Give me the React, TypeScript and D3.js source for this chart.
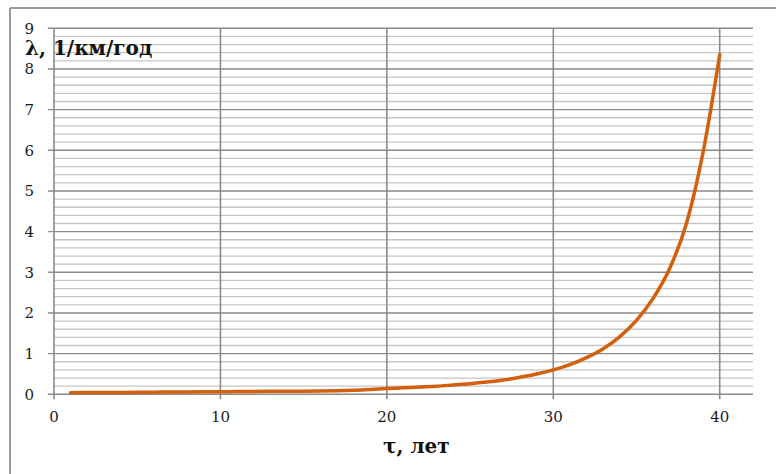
import React from "react";
import * as d3 from "d3";

const years = [1,2,3,4,5,6,7,8,9,10,11,12,13,14,15,16,17,18,19,20,21,22,23,24,25,26,27,28,29,30,31,32,33,34,35,36,37,38,39,40];
const lambdaValues = [0.04,0.042,0.045,0.047,0.05,0.052,0.055,0.057,0.06,0.063,0.066,0.069,0.072,0.075,0.078,0.082,0.088,0.1,0.12,0.14,0.16,0.18,0.2,0.23,0.26,0.3,0.35,0.42,0.5,0.6,0.73,0.9,1.12,1.42,1.82,2.36,3.1,4.2,5.95,8.35];
const xTicks = [0,10,20,30,40];
const yTicks = [0,1,2,3,4,5,6,7,8,9];
const yMinorTicks = d3.range(0, 45).map((i) => i / 5);
const yTitle = "λ, 1/км/год";
const xTitle = "τ, лет";

export default function App() {
  const W = 776, H = 474;
  const x = d3.scaleLinear().domain([0, 42]).range([54, 753]);
  const y = d3.scaleLinear().domain([0, 9]).range([394.3, 28.3]);
  const data = years.map((t, i) => [t, lambdaValues[i]] as [number, number]);
  const line = d3.line<[number, number]>().x((d) => x(d[0])).y((d) => y(d[1])).curve(d3.curveMonotoneX);
  const font = "'DejaVu Serif', serif";
  return (
    <svg width={W} height={H} style={{ position: "fixed", left: 0, top: 0, background: "#fff" }}>
      <rect x={0} y={0} width={W} height={H} fill="#fff" />
      <line x1={10} y1={8} x2={W} y2={8} stroke="#9a9a9a" strokeWidth={2} />
      <line x1={10} y1={8} x2={10} y2={H} stroke="#9a9a9a" strokeWidth={2} />
      {yMinorTicks.filter((v) => Math.abs(v - Math.round(v)) > 1e-6).map((v) => (
        <line key={"m" + v} x1={x(0)} x2={x(42)} y1={y(v)} y2={y(v)} stroke="#c6c6c6" strokeWidth={1.3} />
      ))}
      {yTicks.map((v) => (
        <line key={"g" + v} x1={x(0) - 6} x2={x(42)} y1={y(v)} y2={y(v)} stroke="#8a8a8a" strokeWidth={1.4} />
      ))}
      {xTicks.map((v) => (
        <line key={"v" + v} x1={x(v)} x2={x(v)} y1={y(9)} y2={y(0) + 5} stroke="#8a8a8a" strokeWidth={1.6} />
      ))}
      {yTicks.map((v) => (
        <text key={"yl" + v} x={34} y={y(v)} dy="0.36em" textAnchor="end" fontFamily={font} fontSize={15} fill="#1a1a1a">{v}</text>
      ))}
      {xTicks.map((v) => (
        <text key={"xl" + v} x={x(v)} y={421.5} textAnchor="middle" fontFamily={font} fontSize={15} fill="#1a1a1a">{v}</text>
      ))}
      <path d={line(data) || ""} fill="none" stroke="#d2600c" strokeWidth={3.5} strokeLinejoin="round" strokeLinecap="round" />
      <text x={25} y={55} fontFamily={font} fontWeight="bold" fontSize={20} fill="#111">{yTitle}</text>
      <text x={383} y={453} fontFamily={font} fontWeight="bold" fontSize={20} fill="#111">{xTitle}</text>
    </svg>
  );
}
